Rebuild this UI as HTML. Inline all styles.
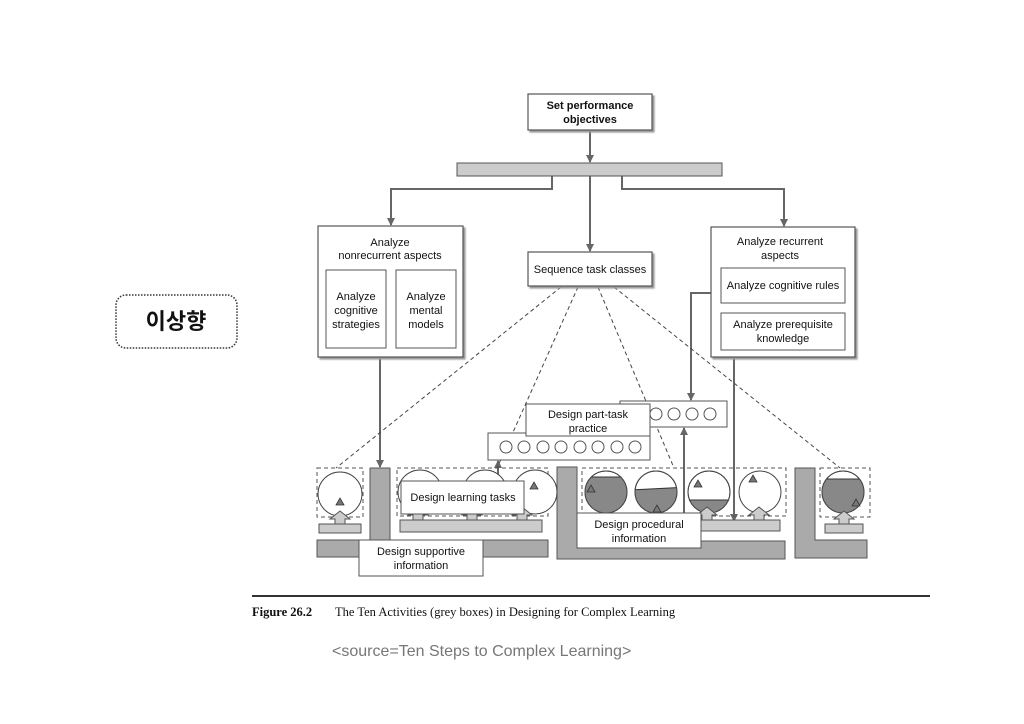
<!DOCTYPE html>
<html><head><meta charset="utf-8"><style>
html,body{margin:0;padding:0;background:#fff;width:1024px;height:724px;overflow:hidden}
svg{display:block}
text{font-family:"Liberation Sans",sans-serif;fill:#111}
</style></head><body>
<svg width="1024" height="724" viewBox="0 0 1024 724" xmlns="http://www.w3.org/2000/svg">
<defs>
<marker id="ar" markerWidth="8" markerHeight="8" refX="7" refY="4" orient="auto" markerUnits="userSpaceOnUse">
<path d="M0,0 L8,4 L0,8 Z" fill="#666"/></marker>
<filter id="sh"><feDropShadow dx="2" dy="2" stdDeviation="0.8" flood-color="#999"/></filter>
</defs>

<rect x="116" y="295" width="121" height="53" rx="10" fill="none" stroke="#333" stroke-width="1.5" stroke-dasharray="1.5,1.5"/>
<text x="176" y="329" font-size="22" font-weight="bold" text-anchor="middle" style="font-family:'Noto Sans CJK KR',sans-serif">이상향</text>

<g stroke="#666" stroke-width="2" fill="none">
<line x1="590" y1="130" x2="590" y2="162" marker-end="url(#ar)"/>
<polyline points="552,176 552,189 391,189 391,225" marker-end="url(#ar)"/>
<polyline points="622,176 622,189 784,189 784,226" marker-end="url(#ar)"/>
<line x1="590" y1="176" x2="590" y2="251" marker-end="url(#ar)"/>
<line x1="380" y1="357" x2="380" y2="467" marker-end="url(#ar)"/>
<polyline points="711,293 691,293 691,400" marker-end="url(#ar)"/>
<line x1="734" y1="357" x2="734" y2="521" marker-end="url(#ar)"/>
<line x1="684" y1="521" x2="684" y2="428" marker-end="url(#ar)"/>
<line x1="498" y1="497" x2="498" y2="461" marker-end="url(#ar)"/>
</g>

<g stroke="#444" stroke-width="1" stroke-dasharray="4,3" fill="none">
<line x1="561" y1="287" x2="336" y2="468"/>
<line x1="578" y1="287" x2="497" y2="468"/>
<line x1="598" y1="287" x2="674" y2="468"/>
<line x1="614" y1="287" x2="840" y2="468"/>
</g>

<g fill="#fff" stroke="#555" stroke-width="1.2" filter="url(#sh)">
<rect x="528" y="94" width="124" height="36"/>
<rect x="318" y="226" width="145" height="131"/>
<rect x="528" y="252" width="124" height="34"/>
<rect x="711" y="227" width="144" height="130"/>
</g>
<rect x="457" y="163" width="265" height="13" fill="#ccc" stroke="#555" stroke-width="1"/>
<g fill="#fff" stroke="#555" stroke-width="1">
<rect x="326" y="270" width="60" height="78"/>
<rect x="396" y="270" width="60" height="78"/>
<rect x="721" y="268" width="124" height="35"/>
<rect x="721" y="313" width="124" height="37"/>
</g>
<g font-size="11" text-anchor="middle">
<text x="590" y="109" font-weight="bold">Set performance</text>
<text x="590" y="123" font-weight="bold">objectives</text>
<text x="390" y="246">Analyze</text>
<text x="390" y="259">nonrecurrent aspects</text>
<text x="356" y="300">Analyze</text><text x="356" y="314">cognitive</text><text x="356" y="328">strategies</text>
<text x="426" y="300">Analyze</text><text x="426" y="314">mental</text><text x="426" y="328">models</text>
<text x="590" y="273">Sequence task classes</text>
<text x="780" y="245">Analyze recurrent</text>
<text x="780" y="259">aspects</text>
<text x="783" y="289">Analyze cognitive rules</text>
<text x="783" y="328">Analyze prerequisite</text>
<text x="783" y="342">knowledge</text>
</g>

<rect x="620" y="401" width="107" height="26" fill="#fff" stroke="#555"/>
<rect x="488" y="433" width="162" height="27" fill="#fff" stroke="#555"/>
<g fill="#fff" stroke="#555">
<circle cx="656" cy="414" r="6"/><circle cx="674" cy="414" r="6"/><circle cx="692" cy="414" r="6"/><circle cx="710" cy="414" r="6"/>
<circle cx="506" cy="447" r="6"/><circle cx="524" cy="447" r="6"/><circle cx="543" cy="447" r="6"/><circle cx="561" cy="447" r="6"/><circle cx="580" cy="447" r="6"/><circle cx="598" cy="447" r="6"/><circle cx="617" cy="447" r="6"/><circle cx="635" cy="447" r="6"/>
</g>
<rect x="526" y="404" width="124" height="32" fill="#fff" stroke="#555"/>
<text x="588" y="418" font-size="11" text-anchor="middle">Design part-task</text>
<text x="588" y="432" font-size="11" text-anchor="middle">practice</text>

<g fill="#aaa" stroke="#555" stroke-width="1">
<path d="M370,468 H390 V540 H548 V557 H317 V540 H370 Z"/>
<path d="M557,467 H577 V541 H785 V559 H557 Z"/>
<path d="M795,468 H815 V540 H867 V558 H795 Z"/>
</g>

<g fill="none" stroke="#555" stroke-dasharray="4,3">
<rect x="317" y="468" width="46" height="49"/>
<rect x="397" y="468" width="151" height="48"/>
<rect x="582" y="468" width="204" height="48"/>
<rect x="820" y="468" width="50" height="49"/>
</g>

<defs>
<clipPath id="c1"><circle cx="606" cy="492" r="21"/></clipPath>
<clipPath id="c2"><circle cx="656" cy="492" r="21"/></clipPath>
<clipPath id="c3"><circle cx="709" cy="492" r="21"/></clipPath>
<clipPath id="c5"><circle cx="843" cy="492" r="21"/></clipPath>
</defs>
<g fill="#fff" stroke="#444" stroke-width="1">
<circle cx="340" cy="494" r="22"/>
<circle cx="420" cy="492" r="22"/><circle cx="485" cy="492" r="22"/><circle cx="535" cy="492" r="22"/>
<circle cx="606" cy="492" r="21"/><circle cx="656" cy="492" r="21"/><circle cx="709" cy="492" r="21"/><circle cx="760" cy="492" r="21"/><circle cx="843" cy="492" r="21"/>
</g>
<g fill="#888" stroke="#333">
<rect x="580" y="477" width="60" height="40" clip-path="url(#c1)"/>
<path d="M630,490 L690,487 L690,520 L630,520 Z" clip-path="url(#c2)"/>
<rect x="685" y="500" width="50" height="20" clip-path="url(#c3)"/>
<rect x="818" y="479" width="50" height="40" clip-path="url(#c5)"/>
</g>
<g fill="none" stroke="#444"><circle cx="606" cy="492" r="21"/><circle cx="656" cy="492" r="21"/><circle cx="709" cy="492" r="21"/><circle cx="843" cy="492" r="21"/></g>
<g fill="#777" stroke="#333" stroke-width="0.8">
<path d="M336,505 l4,-7 l4,7 z"/><path d="M530,489 l4,-7 l4,7 z"/>
<path d="M587,492 l4,-7 l4,7 z"/><path d="M653,512 l4,-7 l4,7 z"/><path d="M694,487 l4,-7 l4,7 z"/><path d="M749,482 l4,-7 l4,7 z"/><path d="M852,506 l4,-7 l4,7 z"/>
</g>

<g fill="#ccc" stroke="#555" stroke-width="1">
<rect x="319" y="524" width="42" height="9"/>
<rect x="400" y="520" width="142" height="12"/>
<rect x="700" y="520" width="80" height="11"/>
<rect x="825" y="524" width="38" height="9"/>
<path d="M335,524 v-5 h-5 l10,-8 l10,8 h-5 v5 z"/>
<path d="M413,520 v-5 h-5 l10,-8 l10,8 h-5 v5 z"/>
<path d="M467,520 v-5 h-5 l10,-8 l10,8 h-5 v5 z"/>
<path d="M517,520 v-5 h-5 l10,-8 l10,8 h-5 v5 z"/>
<path d="M702,520 v-5 h-5 l10,-8 l10,8 h-5 v5 z"/>
<path d="M754,520 v-5 h-5 l10,-8 l10,8 h-5 v5 z"/>
<path d="M839,524 v-5 h-5 l10,-8 l10,8 h-5 v5 z"/>
</g>

<g fill="#fff" stroke="#555">
<rect x="401" y="481" width="123" height="33"/>
<rect x="359" y="540" width="124" height="36"/>
<rect x="577" y="513" width="124" height="35"/>
</g>
<g font-size="11" text-anchor="middle">
<text x="463" y="501">Design learning tasks</text>
<text x="421" y="555">Design supportive</text>
<text x="421" y="569">information</text>
<text x="639" y="528">Design procedural</text>
<text x="639" y="542">information</text>
</g>

<line x1="252" y1="596" x2="930" y2="596" stroke="#333" stroke-width="2"/>
<text x="252" y="616" font-size="12.5" font-weight="bold" style="font-family:'Liberation Serif',serif">Figure 26.2</text>
<text x="335" y="616" font-size="12.5" style="font-family:'Liberation Serif',serif">The Ten Activities (grey boxes) in Designing for Complex Learning</text>
<text x="332" y="656" font-size="16" style="fill:#777">&lt;source=Ten Steps to Complex Learning&gt;</text>
</svg>
</body></html>
